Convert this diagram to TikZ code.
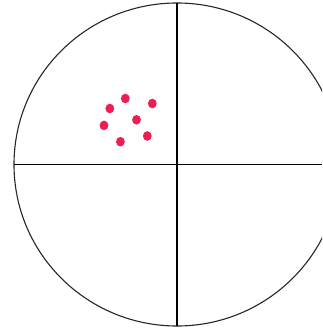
\documentclass[tikz,border=0pt]{standalone}
\definecolor{dotred}{RGB}{236,30,82}
\tikzset{
  ring/.style={draw=black!85, line width=1.1pt},
  axis/.style={draw=black, line width=1.3pt},
  spot/.style={fill=dotred, draw=none}
}
\begin{document}
\begin{tikzpicture}[x=1pt,y=-1pt]
\useasboundingbox (0,0) rectangle (322,331);
\fill[white] (0,0) rectangle (322,331);
\begin{scope}
\clip (0,0) rectangle (322,331);
\coordinate (c) at (177,164.5);
\draw[ring] (c) ellipse [x radius=163, y radius=161.5];
\coordinate (l) at (14,164.5);
\coordinate (r) at (322,164.5);
\coordinate (t) at (177,3);
\coordinate (b) at (177,326);
\draw[axis] (l) -- (r);
\draw[axis] (t) -- (b);
\foreach \x/\y in {125.3/98.5, 109.8/108.5, 152.3/103.5, 136.5/119.8, 104/125.4, 147.3/136, 120.4/141.7}
  \fill[spot] (\x,\y) ellipse [x radius=4.4, y radius=4.8];
\end{scope}
\end{tikzpicture}
\end{document}
